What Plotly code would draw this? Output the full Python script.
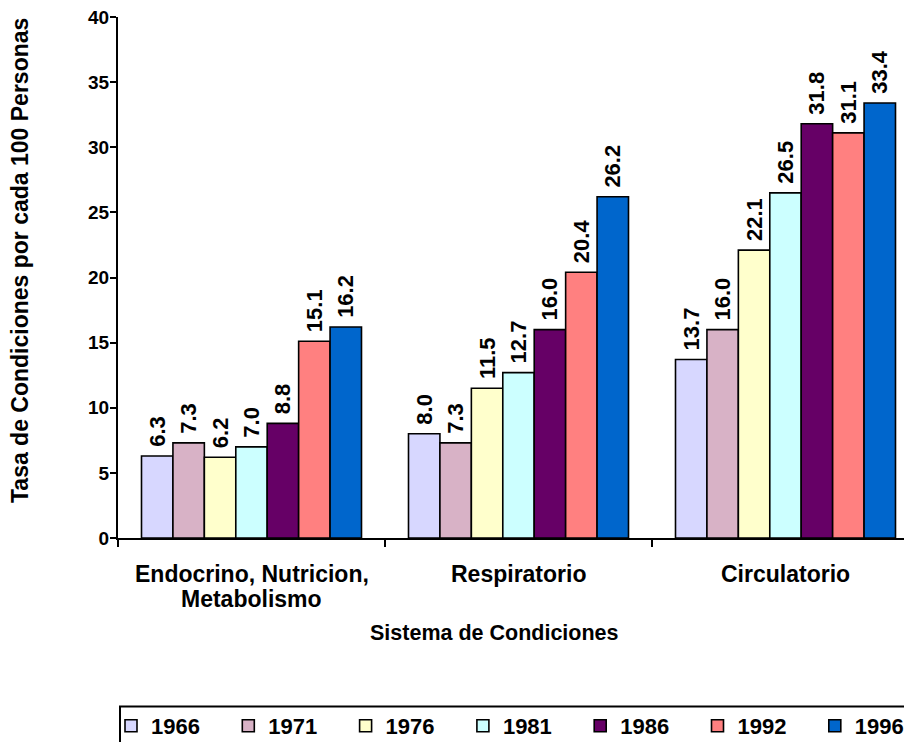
import plotly.graph_objects as go

categories = ["Endocrino, Nutricion, Metabolismo", "Respiratorio", "Circulatorio"]
category_lines = [["Endocrino, Nutricion,", "Metabolismo"], ["Respiratorio"], ["Circulatorio"]]
years = ["1966", "1971", "1976", "1981", "1986", "1992", "1996"]
v1966 = [6.3, 8.0, 13.7]
v1971 = [7.3, 7.3, 16.0]
v1976 = [6.2, 11.5, 22.1]
v1981 = [7.0, 12.7, 26.5]
v1986 = [8.8, 16.0, 31.8]
v1992 = [15.1, 20.4, 31.1]
v1996 = [16.2, 26.2, 33.4]
series = [v1966, v1971, v1976, v1981, v1986, v1992, v1996]
colors = ["#D7D7FF", "#D8B2C6", "#FFFFCC", "#CCFFFF", "#660066", "#FF8080", "#0066CC"]

FONT = "Liberation Sans, Arial, sans-serif"

fig = go.Figure()
for name, vals, col in zip(years, series, colors):
    fig.add_trace(go.Bar(
        name="<b>" + name + "</b>", x=categories, y=vals,
        marker=dict(color=col, line=dict(color="black", width=1.6)),
        texttemplate="\u00a0<b>%{y:.1f}</b>", textposition="outside", textangle=-90,
        constraintext="none",
        textfont=dict(family=FONT, size=22, color="black"),
        cliponaxis=False,
    ))

# page body has an 8px margin; coordinates below are in figure pixels
W, H = 912, 742
L, T = 110, 9
ph = 521
B = H - T - ph
pw = W - L
span = 267.0
bottom = T + ph


def py(fig_y):
    return -(fig_y - bottom) / ph


def px(fig_x):
    return (fig_x - L) / pw


fig.update_layout(
    width=W, height=H,
    margin=dict(l=L, r=0, t=T, b=B, autoexpand=False),
    plot_bgcolor="white", paper_bgcolor="white",
    barmode="group", bargap=0.176, bargroupgap=0,
    font=dict(family=FONT, color="black"),
    showlegend=True,
    legend=dict(
        orientation="h", x=px(103), xanchor="left",
        y=py(697), yanchor="top",
        font=dict(family=FONT, size=22, color="black"),
        entrywidth=72.3, entrywidthmode="pixels",
        bgcolor="rgba(0,0,0,0)", borderwidth=0,
        traceorder="normal",
    ),
    xaxis=dict(
        type="category",
        range=[-0.5, -0.5 + pw / span],
        showline=True, linecolor="black", linewidth=2,
        ticks="outside", tickson="boundaries", ticklen=7, tickwidth=2, tickcolor="black",
        showticklabels=False,
        showgrid=False,
    ),
    yaxis=dict(
        range=[0, 40], dtick=5, tick0=0,
        showline=True, linecolor="black", linewidth=2,
        ticks="outside", ticklen=6, tickwidth=2, tickcolor="black",
        tickfont=dict(family=FONT, size=19, color="black"),
        tickprefix="<b>", ticksuffix="</b>",
        ticklabeloverflow="allow", ticklabelstandoff=-3,
        showgrid=False, zeroline=False,
    ),
)

line_y = [566, 591]
for cat, lines in zip(categories, category_lines):
    for i, t in enumerate(lines):
        fig.add_annotation(x=cat, xref="x", y=py(line_y[i]), yref="paper",
                           text="<b>" + t + "</b>", showarrow=False,
                           xanchor="center", yanchor="middle",
                           font=dict(family=FONT, size=23, color="black"))

fig.add_annotation(x=px(486), xref="paper", y=py(625), yref="paper",
                   text="<b>Sistema de Condiciones</b>", showarrow=False,
                   xanchor="center", yanchor="middle",
                   font=dict(family=FONT, size=21.5, color="black"))

fig.add_annotation(x=px(12), xref="paper", y=1 - (253 - T) / ph, yref="paper",
                   text="<b>Tasa de Condiciones por cada 100 Personas</b>", showarrow=False,
                   textangle=-90, xanchor="center", yanchor="middle", borderpad=0,
                   font=dict(family=FONT, size=23, color="black"))

fig.add_shape(type="rect", xref="paper", yref="paper",
              x0=px(112), x1=1.05,
              y0=py(698.5), y1=py(780),
              line=dict(color="black", width=2), fillcolor="rgba(0,0,0,0)", layer="above")

fig.write_html("out.html")
